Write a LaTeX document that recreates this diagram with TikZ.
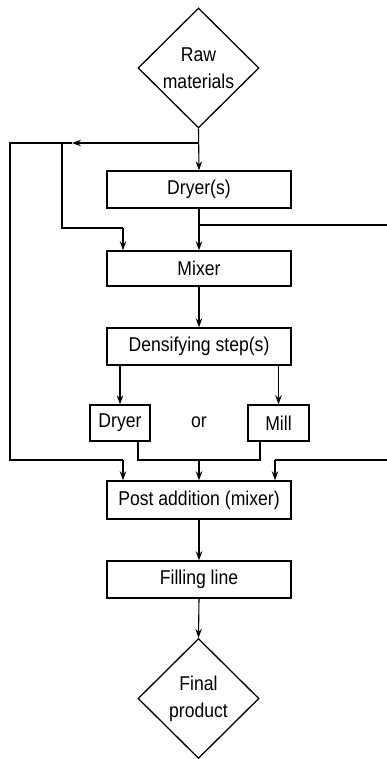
\documentclass[tikz,border=0pt]{standalone}
\usepackage{fontspec}
\setmainfont{Liberation Sans}[FakeStretch=0.88]
\usetikzlibrary{shapes.geometric,arrows.meta}

\begin{document}
\begin{tikzpicture}[x=1pt, y=-1pt,
  txt/.style={font=\fontsize{20}{27}\selectfont},
  stepbox/.style={txt, draw, line width=1.4pt, minimum width=184pt,
    minimum height=37pt, inner sep=0pt},
  smallbox/.style={stepbox, minimum width=60pt, minimum height=36pt},
  terminal/.style={txt, draw, shape=diamond, line width=1.3pt, align=center,
    minimum width=121pt, minimum height=120pt, inner sep=0pt},
  line/.style={line width=1.1pt},
  arr/.style={line, -{Stealth[length=9pt, width=6.5pt]}}
]
\useasboundingbox (0,0) rectangle (387,759);

% process chain
\node[terminal] (raw)   at (198.5,68)  {Raw\\materials};
\node[stepbox]  (dryers) at (199,189.5) {Dryer(s)};
\node[stepbox, minimum height=35pt] (mixer) at (199,268.5) {Mixer};
\node[stepbox]  (dens)  at (199,346.5) {Densifying step(s)};
\node[smallbox] (dryer) at (120,423)   {Dryer};
\node[txt]      (or)    at (199,422)   {or};
\node[smallbox, minimum width=61pt] (mill) at (278.5,423) {Mill};
\node[stepbox, minimum height=38pt] (post) at (199,500) {Post addition (mixer)};
\node[stepbox]  (fill)  at (199,579.5) {Filling line};
\node[terminal] (final) at (198.5,698.5) {Final\\product};

% junctions and free ends
\coordinate (j1)  at (199,143);
\coordinate (ja)  at (72,143);
\coordinate (j2)  at (62,143);
\coordinate (lc)  at (10,143);
\coordinate (c1)  at (123,228);
\coordinate (j3)  at (199,225);
\coordinate (inA) at (387,225);
\coordinate (lb)  at (10,460);
\coordinate (c2)  at (123,460);
\coordinate (d1)  at (138,441);
\coordinate (m1)  at (260,441);
\coordinate (j4)  at (199,460);
\coordinate (inB) at (387,460);
\coordinate (c3)  at (275,460);

% main flow
\draw[arr] (raw.south) -- (dryers.north);
\draw[arr] (dryers.south) -- (mixer.north);
\draw[arr] (mixer.south) -- (dens.north);
\draw[arr] (dryer.north |- dens.south) -- (dryer.north);
\draw[arr] (mill.north |- dens.south) -- (mill.north);
\draw[arr] (post.south) -- (fill.north);
\draw[arr] (fill.south) -- (final.north);

% recycle loops from the raw material feed
\draw[arr] (j1) -- (ja);
\draw[line] (ja) -- (lc) -- (lb) -- (c2);
\draw[arr] (c2) -- (c2 |- post.north);
\draw[line] (j2) |- (c1);
\draw[arr] (c1) -- (c1 |- mixer.north);

% side feeds
\draw[line] (inA) -- (j3);
\draw[line] (inB) -- (c3);
\draw[arr] (c3) -- (c3 |- post.north);

% dryer or mill outlets merge into post addition
\draw[line] (d1) |- (m1 |- j4) -- (m1);
\draw[arr] (j4) -- (post.north);
\end{tikzpicture}
\end{document}
